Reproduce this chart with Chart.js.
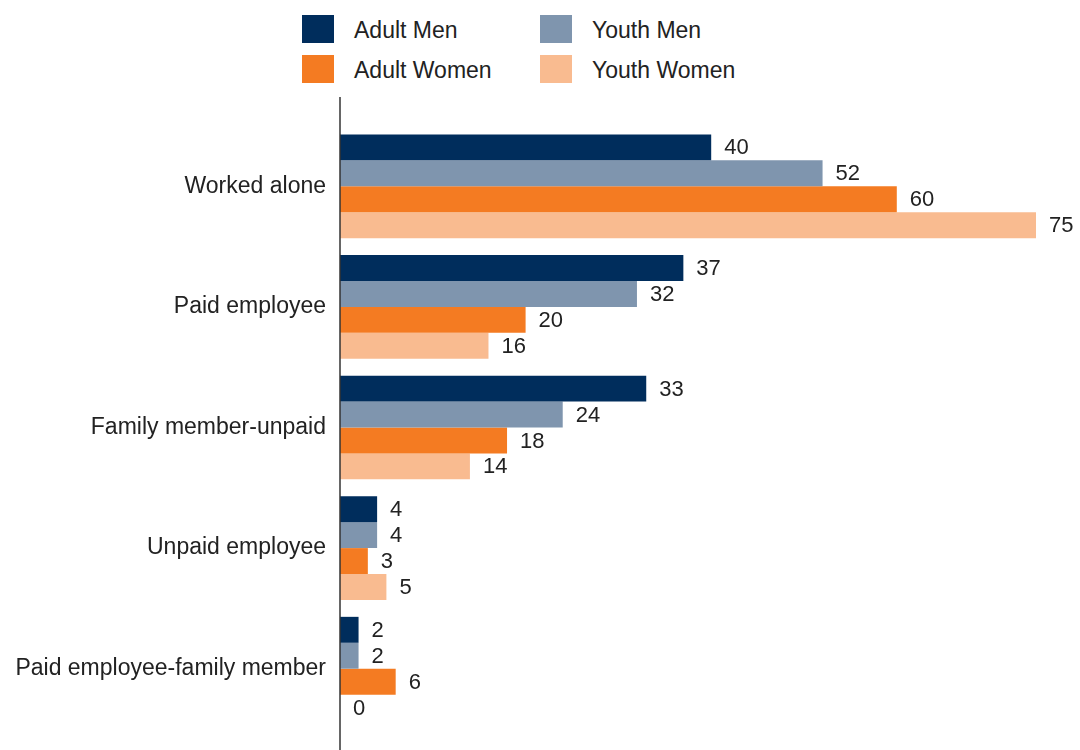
<!DOCTYPE html>
<html>
<head>
<meta charset="utf-8">
<title>Work status by group</title>
<script src="https://cdn.jsdelivr.net/npm/chart.js@4"></script>
<style>
  html, body { margin: 0; padding: 0; background: #fff; }
  body { width: 1080px; height: 750px; position: relative; overflow: hidden;
         font-family: "Liberation Sans", Arial, sans-serif; color: #222; }
  #legend { position: absolute; left: 302px; top: 15px; display: grid;
            grid-template-columns: 238px 238px; grid-auto-rows: 40px; }
  .item { display: flex; align-items: flex-start; font-size: 23px; }
  .swatch { width: 32px; height: 28px; margin-right: 20px; flex: none; }
  .item span { line-height: 30px; }
  #wrap { position: absolute; left: 0; top: 0; width: 1080px; height: 750px; }
</style>
</head>
<body>
<div id="legend"></div>
<div id="wrap"><canvas id="chart"></canvas></div>
<script>
// ── DATA ────────────────────────────────────────
const categories  = ['Worked alone', 'Paid employee', 'Family member-unpaid', 'Unpaid employee', 'Paid employee-family member'];
const seriesNames = ['Adult Men', 'Youth Men', 'Adult Women', 'Youth Women'];
const adultMen    = [40, 37, 33, 4, 2];
const youthMen    = [52, 32, 24, 4, 2];
const adultWomen  = [60, 20, 18, 3, 6];
const youthWomen  = [75, 16, 14, 5, 0];
const colors      = ['#002d5c', '#7f95ae', '#f47b22', '#f9bb90'];

const FONT = '"Liberation Sans", Arial, sans-serif';
const TEXT = '#222';
const AXIS_TOP = 97;

// ── LEGEND (two columns, row-wise) ──────────────
const legend = document.getElementById('legend');
seriesNames.forEach((name, i) => {
  const el = document.createElement('div');
  el.className = 'item';
  el.innerHTML = `<div class="swatch" style="background:${colors[i]}"></div><span>${name}</span>`;
  legend.appendChild(el);
});

// ── PLUGINS ─────────────────────────────────────
// value labels to the right of each bar
const barLabels = {
  id: 'barLabels',
  afterDatasetsDraw(chart) {
    const ctx = chart.ctx;
    ctx.save();
    ctx.font = `22px ${FONT}`;
    ctx.fillStyle = TEXT;
    ctx.textAlign = 'left';
    ctx.textBaseline = 'middle';
    chart.data.datasets.forEach((ds, di) => {
      chart.getDatasetMeta(di).data.forEach((bar, i) => {
        ctx.fillText(String(ds.data[i]), bar.x + 13, bar.y + 1);
      });
    });
    ctx.restore();
  }
};

// vertical axis line, running past the plot area top and bottom
const axisLine = {
  id: 'axisLine',
  afterDatasetsDraw(chart) {
    const { ctx, chartArea } = chart;
    ctx.save();
    ctx.strokeStyle = '#333';
    ctx.lineWidth = 1.5;
    ctx.beginPath();
    ctx.moveTo(chartArea.left, AXIS_TOP);
    ctx.lineTo(chartArea.left, chart.height);
    ctx.stroke();
    ctx.restore();
  }
};

// ── CHART ───────────────────────────────────────
const series = [adultMen, youthMen, adultWomen, youthWomen];
new Chart(document.getElementById('chart'), {
  type: 'bar',
  data: {
    labels: categories,
    datasets: series.map((data, i) => ({
      label: seriesNames[i],
      data,
      backgroundColor: colors[i],
      borderWidth: 0,
      categoryPercentage: 0.86,
      barPercentage: 1.0
    }))
  },
  options: {
    indexAxis: 'y',
    responsive: true,
    maintainAspectRatio: false,
    animation: false,
    layout: { padding: { top: 126, bottom: 21, right: 44, left: 0 } },
    plugins: { legend: { display: false }, tooltip: { enabled: false } },
    scales: {
      x: { display: false, min: 0, max: 75 },
      y: {
        border: { display: false },
        grid: { display: false, drawTicks: false },
        ticks: { color: TEXT, padding: 14, font: { family: FONT, size: 23 } },
        afterFit(scale) {
          // fixed label column; let layout padding alone set the plot height
          scale.width = 340;
          scale.paddingTop = 0;
          scale.paddingBottom = 0;
        }
      }
    }
  },
  plugins: [barLabels, axisLine]
});
</script>
</body>
</html>
